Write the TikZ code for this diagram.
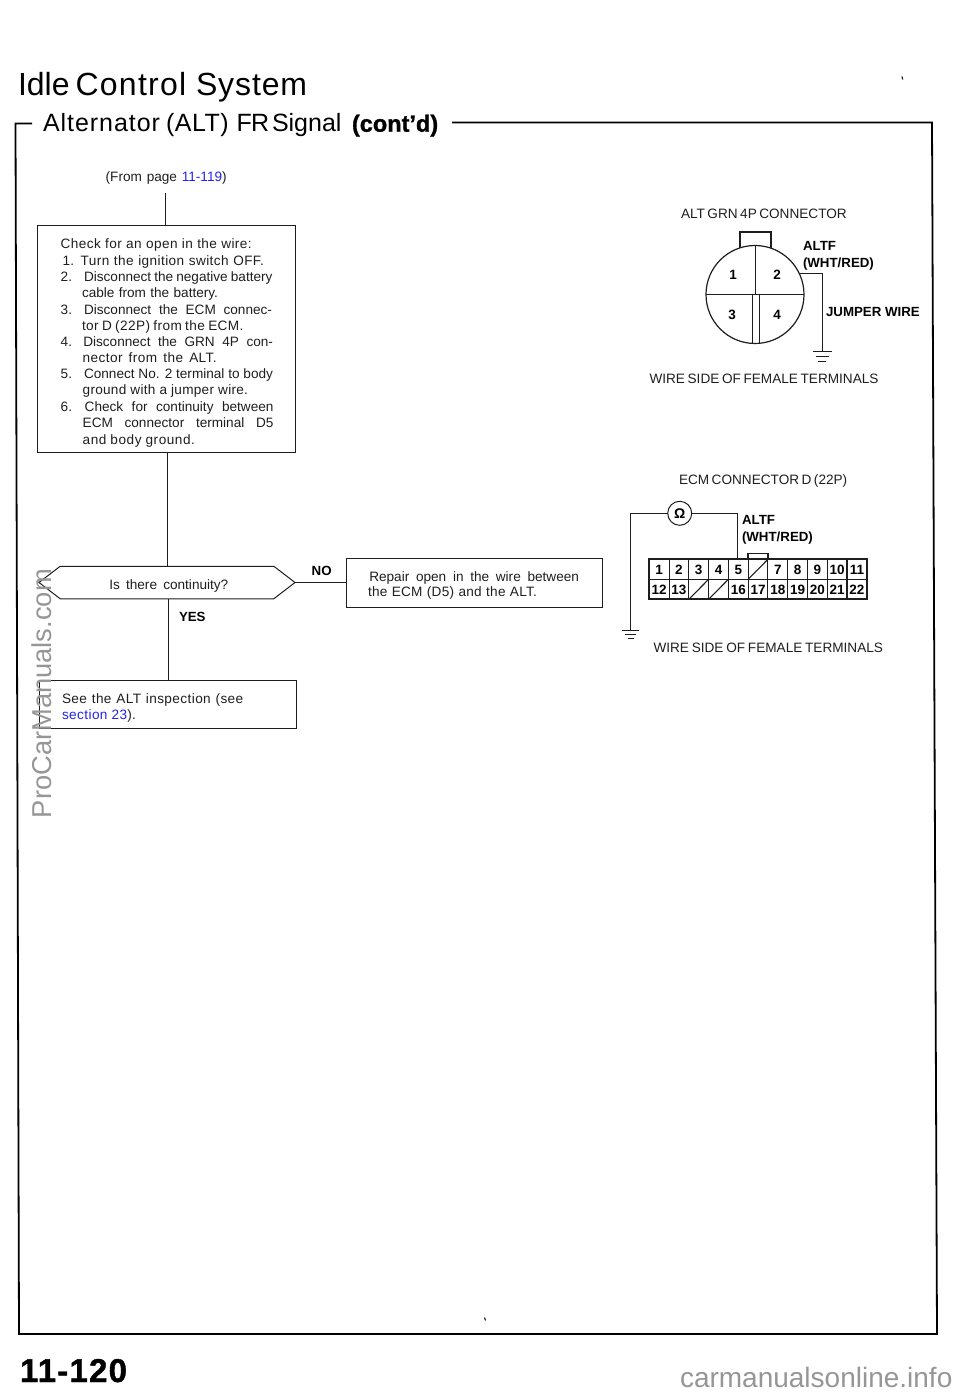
\documentclass[tikz,border=0pt]{standalone}
\usepackage{fontspec}
\usetikzlibrary{shapes.symbols,calc}
\setmainfont{Liberation Sans}
\newfontfamily\heavy[UprightFont=* Bold,FakeBold=1.2]{Liberation Sans}
\definecolor{ink}{HTML}{1E1E1E}
\definecolor{lnk}{HTML}{2222EE}
\definecolor{wm}{HTML}{969696}
\newcommand{\fs}[1]{\fontsize{#1}{#1}\selectfont}
\newcommand{\ls}[2]{{\addfontfeatures{LetterSpace=#1}#2}}
\newcommand{\tl}[5]{\node[txt,anchor=base west] (#1) at (#2,#3) {\makebox[\dimexpr #4pt-#2pt\relax][s]{#5}};}
\tikzset{
  txt/.style={inner sep=0pt,outer sep=0pt,text=ink,font=\fs{13.6}},
  big/.style={inner sep=0pt,outer sep=0pt,text=black,anchor=base west},
  lab/.style={inner sep=0pt,outer sep=0pt,text=black,font=\bfseries\fs{13.3},anchor=base west},
  num/.style={inner sep=0pt,outer sep=0pt,text=black,font=\bfseries\fs{13.5},anchor=center},
  flowbox/.style={draw=ink,line width=1pt,inner sep=0pt,outer sep=0pt},
  wire/.style={draw=ink,line width=1pt},
  frame/.style={draw=black,line width=1.8pt},
  cell/.style={draw=ink,line width=1.1pt},
}
\begin{document}
\begin{tikzpicture}[x=1pt,y=-1pt]
\useasboundingbox (0,0) rectangle (960,1394);
% page frame
\coordinate (fa) at (32,123.5);
\coordinate (fb) at (15.5,123.5);
\coordinate (fc) at (19,1334);
\coordinate (fd) at (937,1334);
\coordinate (fe) at (932,122.5);
\coordinate (ff) at (452,122.5);
\draw[frame] (fa) -- (fb) -- (fc) -- (fd) -- (fe) -- (ff);
% headings
\node[big,font=\fs{32}] (t1) at (18,96) {Idle};
\node[big,font=\fs{32}\addfontfeatures{LetterSpace=4}] (t2) at (75.5,96) {Control};
\node[big,font=\fs{32}\addfontfeatures{LetterSpace=2.8}] (t3) at (196,96) {System};
\node[big,font=\fs{25}\addfontfeatures{LetterSpace=3.8}] (s1w) at (43,131.7) {Alternator};
\node[big,font=\fs{25}\addfontfeatures{LetterSpace=2}] (s2w) at (166,131.7) {(ALT)};
\node[big,font=\fs{25}\addfontfeatures{LetterSpace=-3}] (s3w) at (236.5,131.7) {FR};
\node[big,font=\fs{25}] (s4w) at (272,131.7) {Signal};
\node[big,font=\heavy\fs{23.5}] (contd) at (352,131.7) {(cont’d)};
% flow texts
\node[txt,anchor=base west] (from) at (105.7,181.7) {\makebox[121pt][s]{(From page \textcolor{lnk}{11-119})}};
\node[flowbox,minimum width=257.5pt,minimum height=226.5pt] (b1) at (166.3,339.2) {};
\coordinate (fromtail) at (165,193);
\draw[wire] (fromtail) -- (fromtail |- b1.north);
\tl{l1}{60.7}{248.3}{251.7}{\ls{3}{Check for an open in the wire:}}
\tl{l2a}{62.7}{265}{70}{1.}
\tl{l2}{80.7}{265}{264}{\ls{3}{Turn the ignition switch OFF.}}
\tl{l3a}{60.7}{281.7}{68}{2.}
\tl{l3}{84}{281.7}{272.5}{Disconnect the negative battery}
\tl{l4}{82}{297.3}{218}{cable from the battery.}
\tl{l5a}{60.7}{314}{68}{3.}
\tl{l5}{84}{314}{272}{Disconnect the ECM connec-}
\tl{l6}{82}{330}{243.5}{\ls{3}{tor D (22P) from the ECM.}}
\tl{l7a}{60.7}{346}{68}{4.}
\tl{l7}{83.3}{346}{273}{Disconnect the GRN 4P con-}
\tl{l8}{82.7}{362.3}{216.7}{\ls{3}{nector from the ALT.}}
\tl{l9a}{60.7}{378.7}{68}{5.}
\tl{l9}{84}{378.7}{273}{Connect No. 2 terminal to body}
\tl{l10}{82.7}{394.7}{248}{\ls{2}{ground with a jumper wire.}}
\tl{l11a}{60.7}{411.3}{68}{6.}
\tl{l11}{84.7}{411.3}{273.5}{Check for continuity between}
\tl{l12}{82.7}{427.3}{273.5}{ECM connector terminal D5}
\tl{l13}{82.7}{444}{195}{\ls{4}{and body ground.}}
% decision
\node[signal,signal to=east and west,signal pointer angle=75,draw=ink,line width=1pt,inner sep=0pt,outer sep=0pt,minimum width=256pt,minimum height=32.5pt] (dec) at (167,582.5) {};
\node[txt,anchor=base west] (dectext) at (109.3,589) {\makebox[119pt][s]{Is there continuity?}};
\draw[wire] (b1.south -| dec.north) -- (dec.north);
\node[flowbox,minimum width=256pt,minimum height=49pt] (b2) at (474,582.5) {};
\tl{r1}{369.3}{581.7}{579}{Repair open in the wire between}
\tl{r2}{368}{596.7}{537}{\ls{2}{the ECM (D5) and the ALT.}}
\draw[wire] (dec.east) -- (dec.east -| b2.west);
\node[lab] (no) at (311.7,575.7) {NO};
\node[lab] (yes) at (179,621.7) {YES};
\node[flowbox,minimum width=256.5pt,minimum height=48.5pt] (b3) at (168,704.3) {};
\draw[wire] (dec.south -| b3.north) -- (b3.north);
\tl{s1}{62}{703.3}{243.3}{\ls{3}{See the ALT inspection (see}}
\node[txt,anchor=base west] (s2) at (62,719.3) {\makebox[74pt][s]{\ls{3}{\textcolor{lnk}{section 23}).}}};
% 4P connector
\node[txt,anchor=base west] (h1) at (681,218) {\makebox[165pt][s]{ALT GRN 4P CONNECTOR}};
\node[draw=ink,line width=1.2pt,circle,minimum size=98pt,inner sep=0pt,outer sep=0pt] (alt) at (755,294.5) {};
\coordinate (taba) at (740,247.5);
\coordinate (tabb) at (740,232);
\coordinate (tabc) at (771,232);
\coordinate (tabd) at (771,247.5);
\draw[wire,line width=1.2pt] (taba) -- (tabb) -- (tabc) -- (tabd);
\draw[wire] (alt.west) -- (alt.east);
\coordinate (mid) at (755.7,293.5);
\draw[wire] (mid |- alt.north) -- (mid);
\coordinate (dbl1) at (752,293.5);
\coordinate (dbl2) at (759,293.5);
\draw[wire] (dbl1) -- (752,343.2);
\draw[wire] (dbl2) -- (759,343.2);
\node[num] (p1) at (733,274.5) {1};
\node[num] (p2) at (777,275) {2};
\node[num] (p3) at (732,315) {3};
\node[num] (p4) at (777,315) {4};
\coordinate (g1) at (822,351.7);
\draw[wire] (alt.26) -| (g1);
\draw[wire] ($(g1)+(-9.5,0)$) -- ($(g1)+(9.5,0)$);
\draw[wire] ($(g1)+(-6.5,5)$) -- ($(g1)+(6.5,5)$);
\draw[wire] ($(g1)+(-4,9.5)$) -- ($(g1)+(4,9.5)$);
\node[lab] (alf1) at (803,250.5) {ALTF};
\node[lab] (wr1) at (803,267) {(WHT/RED)};
\node[lab] (jw) at (826,316.5) {JUMPER WIRE};
\node[txt,anchor=base west] (h2) at (649.5,383) {\makebox[229pt][s]{WIRE SIDE OF FEMALE TERMINALS}};
% 22P connector
\node[txt,anchor=base west] (h3) at (679,484) {\makebox[167pt][s]{ECM CONNECTOR D (22P)}};
\node[draw=ink,line width=2pt,minimum width=217.4pt,minimum height=40pt,inner sep=0pt,outer sep=0pt] (conn) at (758,579.3) {};
\draw[cell,line width=1.4pt] (conn.west) -- (conn.east);
\foreach \i in {1,...,10}{
  \draw[cell] ($(conn.north west)+(\i*19.77,0)$) -- ($(conn.south west)+(\i*19.77,0)$);
}
\foreach \i/\t in {0/1,1/2,2/3,3/4,4/5,6/7,7/8,8/9,9/10,10/11}{
  \node[num] (ta\t) at (659.2+\i*19.77,569.8) {\t};
}
\foreach \i/\t in {0/12,1/13,4/16,5/17,6/18,7/19,8/20,9/21,10/22}{
  \node[num] (tb\t) at (659.2+\i*19.77,589.8) {\t};
}
\draw[cell] ($(conn.west)+(5*19.77,0)$) -- ($(conn.north west)+(6*19.77,0)$);
\draw[cell] ($(conn.south west)+(2*19.77,0)$) -- ($(conn.west)+(3*19.77,0)$);
\draw[cell] ($(conn.south west)+(3*19.77,0)$) -- ($(conn.west)+(4*19.77,0)$);
\coordinate (tb1) at (747.8,559.3);
\coordinate (tb2) at (747.8,553.5);
\coordinate (tb3) at (768,553.5);
\coordinate (tb4) at (768,559.3);
\draw[wire,line width=1.5pt] (tb1) -- (tb2) -- (tb3) -- (tb4);
\node[draw=ink,line width=1pt,circle,minimum size=24pt,inner sep=0pt,outer sep=0pt,font=\bfseries\fs{14}] (ohm) at (679.7,513.3) {Ω};
\coordinate (g2) at (630.5,630);
\coordinate (pin) at (737,559.3);
\draw[wire] (ohm.west) -| (g2);
\draw[wire] (ohm.east) -| (pin);
\draw[wire] ($(g2)+(-8.5,0)$) -- ($(g2)+(8.5,0)$);
\draw[wire] ($(g2)+(-5.5,4.5)$) -- ($(g2)+(5.5,4.5)$);
\draw[wire] ($(g2)+(-3,8.5)$) -- ($(g2)+(3,8.5)$);
\node[lab] (alf2) at (742,524.5) {ALTF};
\node[lab] (wr2) at (742,541) {(WHT/RED)};
\node[txt,anchor=base west] (h4) at (653.5,652) {\makebox[229.5pt][s]{WIRE SIDE OF FEMALE TERMINALS}};
% page number and watermarks
\node[big,font=\heavy\fs{33}\addfontfeatures{LetterSpace=3.7}] (page) at (20,1382) {11-120};
\node[txt,anchor=base west,text=wm,rotate=90,font=\fs{27.3}] (wm1) at (51,818) {ProCarManuals.com};
\node[txt,anchor=base west,text=wm,font=\fs{28}] (wm2) at (680,1387) {carmanualsonline.info};
% stray print marks
\draw[draw=ink,line width=1.2pt] (902,76.5) -- (902.7,79.5);
\draw[draw=ink,line width=1.2pt] (484.5,1317.5) -- (485.5,1320.5);
\end{tikzpicture}
\end{document}
